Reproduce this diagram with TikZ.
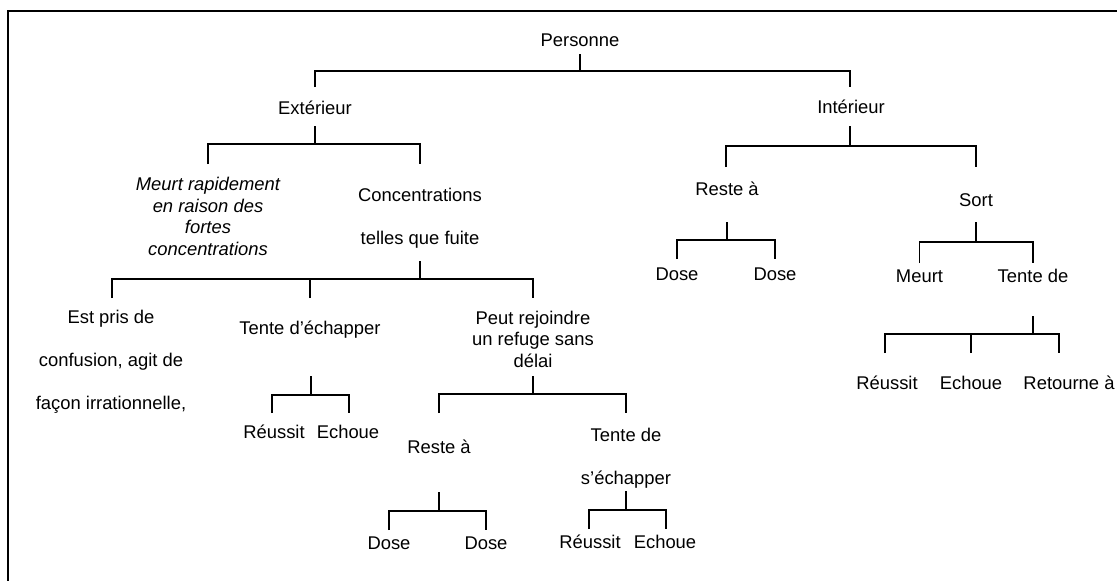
\documentclass[tikz,border=0pt]{standalone}
\usepackage{fontspec}
\setmainfont{Liberation Sans}
\begin{document}
\begin{tikzpicture}[x=1pt,y=-1pt,
  lbl/.style={inner sep=0pt,anchor=base,align=center,font=\fontsize{18.4}{21.5}\selectfont},
  lbli/.style={lbl,font=\fontsize{18.4}{21.5}\selectfont\itshape},
  tree/.style={line width=1.8pt,line cap=butt,line join=miter},
  frame/.style={line width=1.8pt}]
\useasboundingbox (0,0) rectangle (1117,581);
\draw[frame] (8,590) -- (8,11) -- (1125,11);
% labels (anchor = baseline of the last line, visual centre + 6)
\node[lbl] (pers) at (580,46) {Personne};
\node[lbl] (ext) at (315,114) {Extérieur};
\node[lbl] (int) at (851,113) {Intérieur};
\node[lbli] (meurt1) at (208,255) {Meurt rapidement\\en raison des\\fortes\\concentrations};
\node[lbl] (conc) at (420,244) {Concentrations\\[21.5pt]telles que fuite};
\node[lbl] (est) at (111,409) {Est pris de\\[21.5pt]confusion, agit de\\[21.5pt]façon irrationnelle,};
\node[lbl] (tente1) at (310,334) {Tente d’échapper};
\node[lbl] (peut) at (533,367) {Peut rejoindre\\un refuge sans\\délai};
\node[lbl] (re1) at (274,438) {Réussit};
\node[lbl] (ec1) at (348,438) {Echoue};
\node[lbl] (reste1) at (439,453) {Reste à};
\node[lbl] (dose1) at (389,549) {Dose};
\node[lbl] (dose2) at (486,549) {Dose};
\node[lbl] (tentede1) at (626,484) {Tente de\\[21.5pt]s’échapper};
\node[lbl] (re2) at (590,548) {Réussit};
\node[lbl] (ec2) at (665,548) {Echoue};
\node[lbl] (reste2) at (727,195) {Reste à};
\node[lbl] (dose3) at (677,280) {Dose};
\node[lbl] (dose4) at (775,280) {Dose};
\node[lbl] (sort) at (976,206) {Sort};
\node[lbl] (meurt2) at (919.5,282) {Meurt};
\node[lbl] (tentede2) at (1033,282) {Tente de};
\node[lbl] (re3) at (887,389) {Réussit};
\node[lbl] (ec3) at (971,389) {Echoue};
\node[lbl] (ret) at (1069,389) {Retourne à};
% connector points
\coordinate (pers-s) at (580,54);   \coordinate (pers-j) at (580,71);
\coordinate (ext-t) at (315,87);    \coordinate (int-t) at (850,87);
\coordinate (ext-s) at (315,126);   \coordinate (ext-j) at (315,144);
\coordinate (meurt1-t) at (208,164); \coordinate (conc-t) at (420,164);
\coordinate (conc-s) at (420,261);  \coordinate (conc-j) at (420,279);
\coordinate (est-t) at (112,298);   \coordinate (tente1-t) at (310,298); \coordinate (peut-t) at (533,298);
\coordinate (tente1-s) at (311,376); \coordinate (tente1-j) at (311,395);
\coordinate (re1-t) at (272,413);   \coordinate (ec1-t) at (349,413);
\coordinate (peut-s) at (533,376);  \coordinate (peut-j) at (533,394);
\coordinate (reste1-t) at (439,413); \coordinate (tentede1-t) at (626,413);
\coordinate (reste1-s) at (439,492); \coordinate (reste1-j) at (439,511);
\coordinate (dose1-t) at (389,530); \coordinate (dose2-t) at (486,530);
\coordinate (tentede1-s) at (626,491); \coordinate (tentede1-j) at (626,510);
\coordinate (re2-t) at (589,529);   \coordinate (ec2-t) at (666,529);
\coordinate (int-s) at (850,126);   \coordinate (int-j) at (850,146);
\coordinate (reste2-t) at (726,167); \coordinate (sort-t) at (976,167);
\coordinate (reste2-s) at (727,222); \coordinate (reste2-j) at (727,240);
\coordinate (dose3-t) at (677,259); \coordinate (dose4-t) at (775,259);
\coordinate (sort-s) at (976,222);  \coordinate (sort-j) at (976,242);
\coordinate (meurt2-t) at (919.5,263); \coordinate (tentede2-t) at (1033,263);
\coordinate (tentede2-s) at (1033,316); \coordinate (tentede2-j) at (1033,334);
\coordinate (re3-t) at (885,353);   \coordinate (ec3-t) at (971,353); \coordinate (ret-t) at (1059,353);
% connectors
\draw[tree] (pers-s) -- (pers-j);
\draw[tree] (ext-t) |- (pers-j) -| (int-t);
\draw[tree] (ext-s) -- (ext-j);
\draw[tree] (meurt1-t) |- (ext-j) -| (conc-t);
\draw[tree] (conc-s) -- (conc-j);
\draw[tree] (est-t) |- (conc-j) -| (peut-t);
\draw[tree] (tente1-t) -- (tente1-t |- conc-j);
\draw[tree] (tente1-s) -- (tente1-j);
\draw[tree] (re1-t) |- (tente1-j) -| (ec1-t);
\draw[tree] (peut-s) -- (peut-j);
\draw[tree] (reste1-t) |- (peut-j) -| (tentede1-t);
\draw[tree] (reste1-s) -- (reste1-j);
\draw[tree] (dose1-t) |- (reste1-j) -| (dose2-t);
\draw[tree] (tentede1-s) -- (tentede1-j);
\draw[tree] (re2-t) |- (tentede1-j) -| (ec2-t);
\draw[tree] (int-s) -- (int-j);
\draw[tree] (reste2-t) |- (int-j) -| (sort-t);
\draw[tree] (reste2-s) -- (reste2-j);
\draw[tree] (dose3-t) |- (reste2-j) -| (dose4-t);
\draw[tree] (sort-s) -- (sort-j);
\draw[tree] (meurt2-t) |- (sort-j) -| (tentede2-t);
\draw[tree] (tentede2-s) -- (tentede2-j);
\draw[tree] (re3-t) |- (tentede2-j) -| (ret-t);
\draw[tree] (ec3-t) -- (ec3-t |- tentede2-j);
\end{tikzpicture}
\end{document}
